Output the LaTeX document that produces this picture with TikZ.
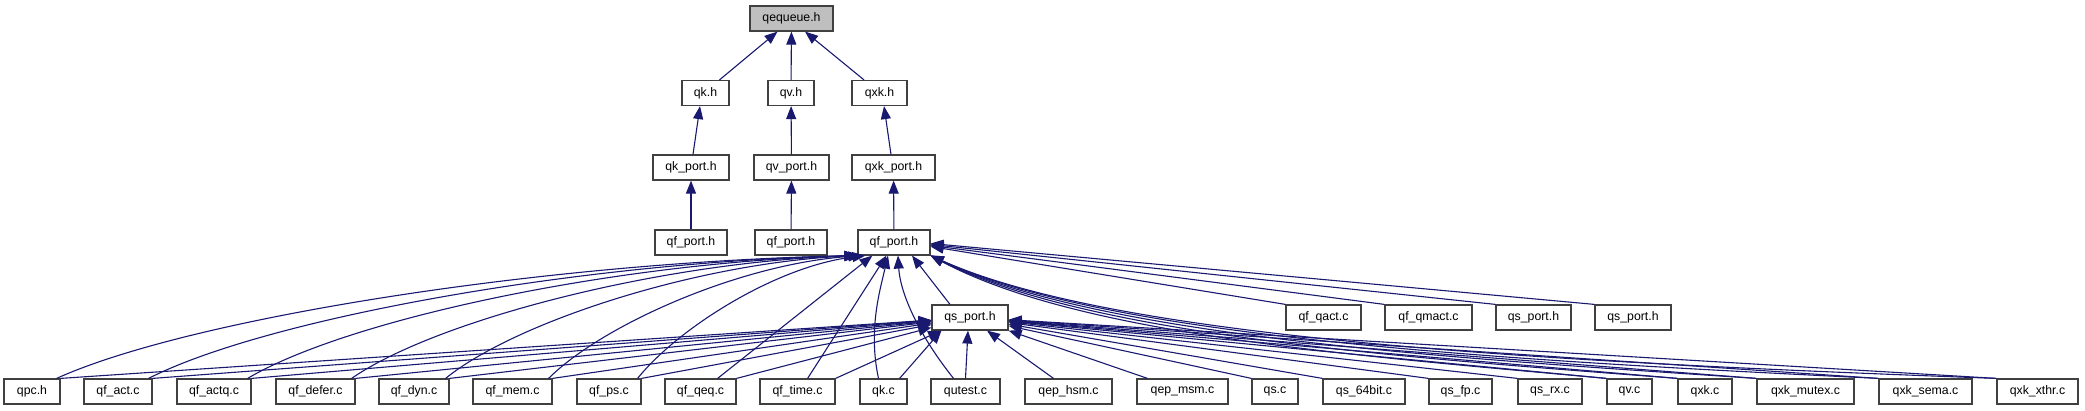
\documentclass[tikz,border=0pt]{standalone}
\usepackage{fontspec}
\setmainfont{Liberation Sans}
\usetikzlibrary{arrows.meta}
\definecolor{edgeblue}{HTML}{191970}
\begin{document}
\begin{tikzpicture}[x=1pt,y=-1pt,
file/.style={draw=black!75,line width=1.2pt,fill=white,minimum height=25pt,inner sep=0pt,font=\fontsize{12.3}{14}\selectfont},
root/.style={file,fill=black!25},
dep/.style={-{Triangle[length=13pt,width=10pt]},line width=1.1pt,draw=edgeblue}]
\useasboundingbox (0,0) rectangle (2085,411);
\node[root,minimum width=83pt] (qequeue) at (791.5,18.5) {qequeue.h};
\node[file,minimum width=47pt] (qkh) at (705.5,93) {qk.h};
\node[file,minimum width=46pt] (qvh) at (791,93) {qv.h};
\node[file,minimum width=55pt] (qxkh) at (879.5,93) {qxk.h};
\node[file,minimum width=76pt] (qkport) at (691,167.5) {qk\_port.h};
\node[file,minimum width=75pt] (qvport) at (791.5,167.5) {qv\_port.h};
\node[file,minimum width=83pt] (qxkport) at (893.5,167.5) {qxk\_port.h};
\node[file,minimum width=72pt] (qfportA) at (691,242.5) {qf\_port.h};
\node[file,minimum width=72pt] (qfportB) at (791,242.5) {qf\_port.h};
\node[file,minimum width=72pt] (qfport) at (894,242.5) {qf\_port.h};
\node[file,minimum width=76pt] (qsport) at (970,317.5) {qs\_port.h};
\node[file,minimum width=75pt] (qfqact) at (1323.5,317.5) {qf\_qact.c};
\node[file,minimum width=87pt] (qfqmact) at (1428.5,317.5) {qf\_qmact.c};
\node[file,minimum width=75pt] (qsportA) at (1533.5,317.5) {qs\_port.h};
\node[file,minimum width=76pt] (qsportB) at (1633,317.5) {qs\_port.h};
\node[file,minimum width=56pt] (qpc) at (32,391.5) {qpc.h};
\node[file,minimum width=68pt] (qfact) at (118,391.5) {qf\_act.c};
\node[file,minimum width=74pt] (qfactq) at (214,391.5) {qf\_actq.c};
\node[file,minimum width=79pt] (qfdefer) at (315.5,391.5) {qf\_defer.c};
\node[file,minimum width=70pt] (qfdyn) at (414,391.5) {qf\_dyn.c};
\node[file,minimum width=79pt] (qfmem) at (512.5,391.5) {qf\_mem.c};
\node[file,minimum width=64pt] (qfps) at (609,391.5) {qf\_ps.c};
\node[file,minimum width=71pt] (qfqeq) at (700.5,391.5) {qf\_qeq.c};
\node[file,minimum width=75pt] (qftime) at (797.5,391.5) {qf\_time.c};
\node[file,minimum width=47pt] (qkc) at (883.5,391.5) {qk.c};
\node[file,minimum width=69pt] (qutest) at (965.5,391.5) {qutest.c};
\node[file,minimum width=87pt] (qephsm) at (1068.5,391.5) {qep\_hsm.c};
\node[file,minimum width=91pt] (qepmsm) at (1182.5,391.5) {qep\_msm.c};
\node[file,minimum width=46pt] (qsc) at (1275,391.5) {qs.c};
\node[file,minimum width=82pt] (qsbit) at (1364,391.5) {qs\_64bit.c};
\node[file,minimum width=63pt] (qsfp) at (1460.5,391.5) {qs\_fp.c};
\node[file,minimum width=64pt] (qsrx) at (1550,391.5) {qs\_rx.c};
\node[file,minimum width=45pt] (qvc) at (1629.5,391.5) {qv.c};
\node[file,minimum width=54pt] (qxkc) at (1705,391.5) {qxk.c};
\node[file,minimum width=97pt] (qxkmutex) at (1805.5,391.5) {qxk\_mutex.c};
\node[file,minimum width=93pt] (qxksema) at (1925.5,391.5) {qxk\_sema.c};
\node[file,minimum width=81pt] (qxkxthr) at (2037.5,391.5) {qxk\_xthr.c};
\draw[dep] ([xshift=14pt]qkh.north) -- ([xshift=-14pt]qequeue.south);
\draw[dep] (qvh) -- (qequeue);
\draw[dep] ([xshift=-15.5pt]qxkh.north) -- ([xshift=13.5pt]qequeue.south);
\draw[dep] ([xshift=2pt]qkport.north) -- ([xshift=-5.5pt]qkh.south);
\draw[dep] (qvport) -- (qvh);
\draw[dep] ([xshift=-2.5pt]qxkport.north) -- ([xshift=4.5pt]qxkh.south);
\draw[dep] (qfportA) -- (qkport);
\draw[dep] (qfportB) -- (qvport);
\draw[dep] (qfport) -- (qxkport);
\draw[dep] ([xshift=-4pt]qpc.north east) .. controls (190,318) and (546,262) .. (qfport.south west);
\draw[dep] ([xshift=-4pt]qfact.north east) .. controls (267,318) and (582,262) .. (qfport.south west);
\draw[dep] ([xshift=-4pt]qfactq.north east) .. controls (350,318) and (620,262) .. (qfport.south west);
\draw[dep] ([xshift=-4pt]qfdefer.north east) .. controls (436,320) and (661,262) .. (qfport.south west);
\draw[dep] ([xshift=-4pt]qfdyn.north east) .. controls (515,322) and (698,263) .. (qfport.south west);
\draw[dep] ([xshift=-4pt]qfmem.north east) .. controls (602,325) and (740,264) .. ([xshift=4pt]qfport.south west);
\draw[dep] ([xshift=-4pt]qfps.north east) .. controls (678,328) and (777,266) .. ([xshift=8pt]qfport.south west);
\draw[dep] ([xshift=-19pt]qfqeq.north east) -- ([xshift=15pt]qfport.south west);
\draw[dep] ([xshift=-28pt]qftime.north east) -- ([xshift=29pt]qfport.south west);
\draw[dep] ([xshift=-5pt]qkc.north) .. controls (868,330) and (880,290) .. ([xshift=-6pt]qfport.south);
\draw[dep] ([xshift=-12pt]qutest.north) .. controls (915,330) and (900,290) .. ([xshift=4pt]qfport.south);
\draw[dep] ([xshift=-20pt]qsport.north) -- ([xshift=18pt]qfport.south);
\draw[dep] (qfqact.north west) -- ([yshift=-4pt]qfport.east);
\draw[dep] (qfqmact.north west) -- ([yshift=-3pt]qfport.east);
\draw[dep] (qsportA.north west) -- ([yshift=-2pt]qfport.east);
\draw[dep] (qsportB.north west) -- ([yshift=-1pt]qfport.east);
\draw[dep] (qvc.north west) .. controls (1350,355) and (1080,335) .. (qfport.south east);
\draw[dep] (qxkc.north west) .. controls (1400,357) and (1090,336) .. (qfport.south east);
\draw[dep] (qxkmutex.north west) .. controls (1450,358) and (1100,337) .. (qfport.south east);
\draw[dep] (qxksema.north west) .. controls (1500,360) and (1110,338) .. (qfport.south east);
\draw[dep] (qxkxthr.north west) .. controls (1550,362) and (1120,340) .. (qfport.south east);
\draw[dep] (qpc.north east) -- (qsport);
\draw[dep] (qfact.north east) -- (qsport);
\draw[dep] (qfactq.north east) -- (qsport);
\draw[dep] (qfdefer.north east) -- (qsport);
\draw[dep] (qfdyn.north east) -- (qsport);
\draw[dep] (qfmem.north east) -- (qsport);
\draw[dep] (qfps.north east) -- (qsport);
\draw[dep] (qfqeq.north east) -- (qsport);
\draw[dep] (qftime.north east) -- (qsport);
\draw[dep] ([xshift=-8pt]qkc.north east) -- ([xshift=10pt]qsport.south west);
\draw[dep] (qutest.north) -- ([xshift=-2pt]qsport.south);
\draw[dep] ([xshift=-15pt]qephsm.north) -- ([xshift=17pt]qsport.south);
\draw[dep] ([xshift=-35pt]qepmsm.north) -- (qsport.south east);
\draw[dep] (qsc.north west) -- (qsport);
\draw[dep] (qsbit.north west) -- (qsport);
\draw[dep] (qsfp.north west) -- (qsport);
\draw[dep] (qsrx.north west) -- (qsport);
\draw[dep] (qvc.north west) -- (qsport);
\draw[dep] (qxkc.north west) -- (qsport);
\draw[dep] (qxkmutex.north west) -- (qsport);
\draw[dep] (qxksema.north west) -- (qsport);
\draw[dep] (qxkxthr.north west) -- (qsport);
\end{tikzpicture}
\end{document}
